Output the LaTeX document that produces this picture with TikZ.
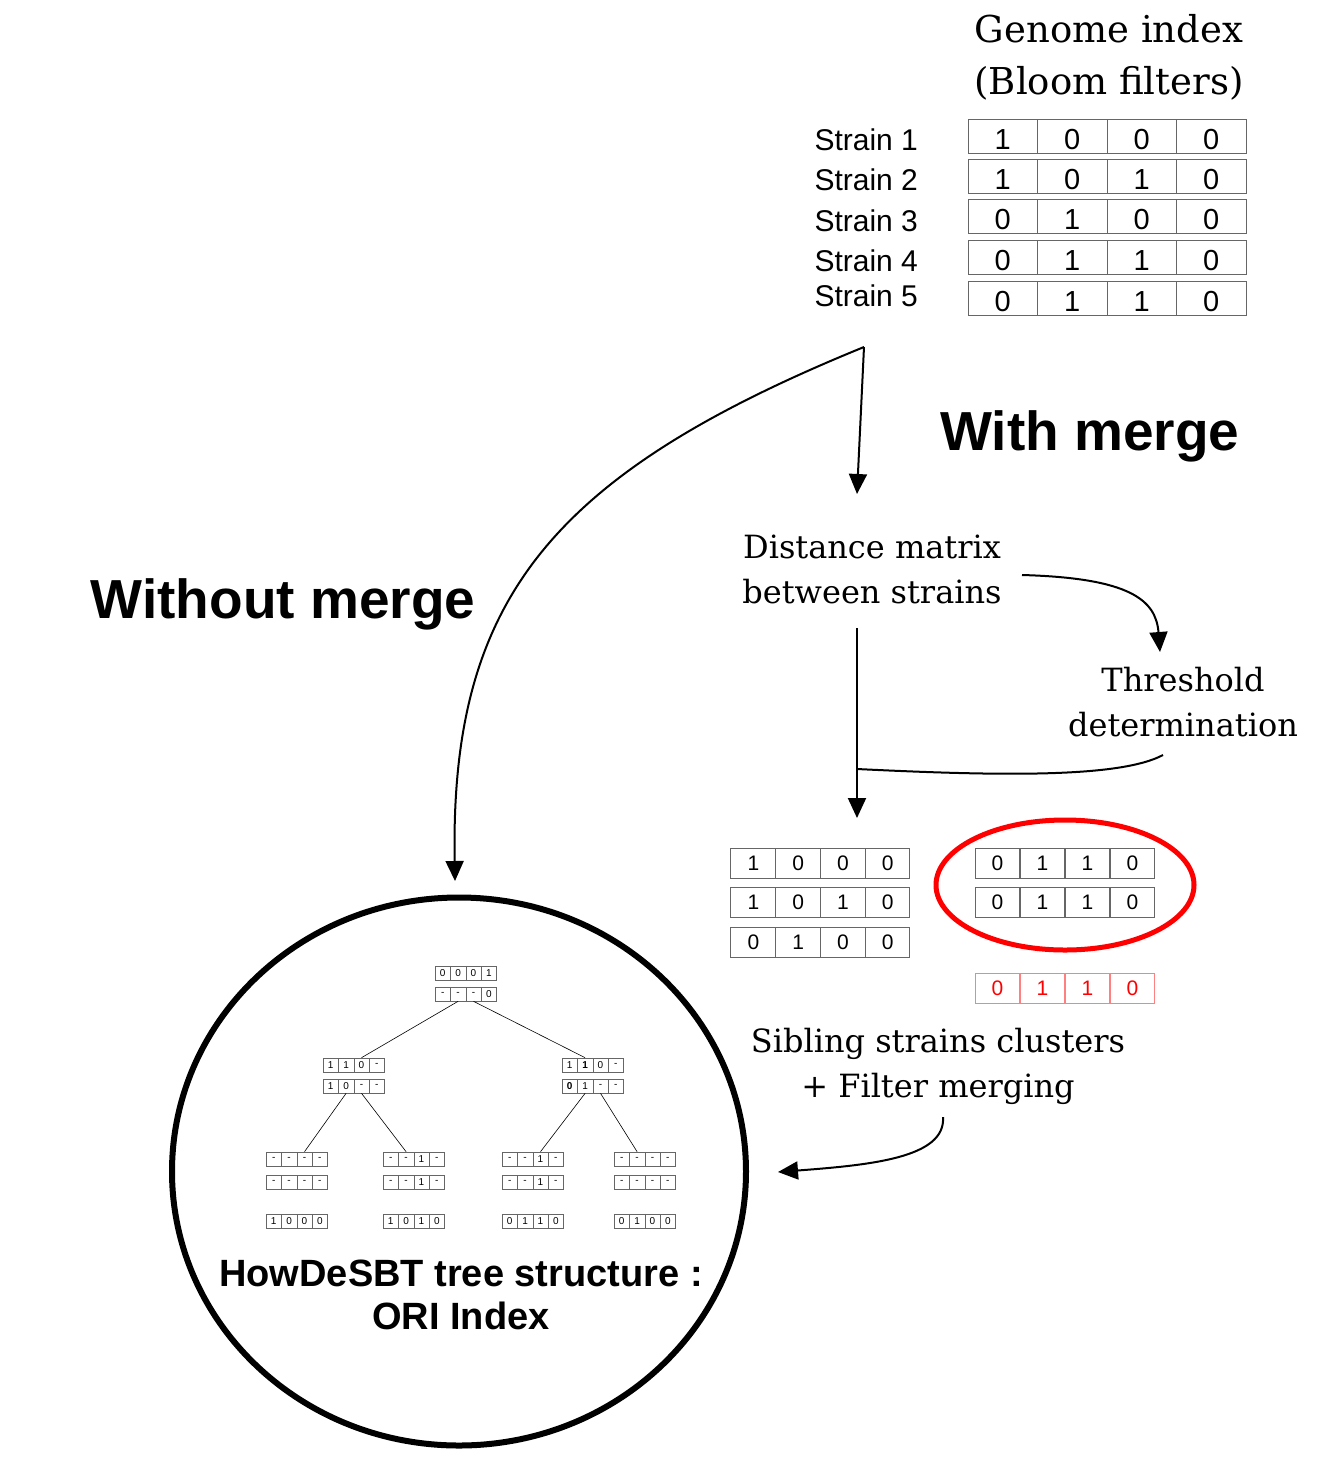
\documentclass[tikz,border=0pt]{standalone}
\usepackage{fontspec}
\setmainfont{DejaVu Serif}
\setsansfont{Liberation Sans}
\usetikzlibrary{arrows.meta,shapes.geometric}

\begin{document}
\begin{tikzpicture}
[x=1pt,y=-1pt]
\tikzset{cell/.style={draw=black!60,line width=1pt,minimum width=69.5pt,minimum height=34pt,inner sep=0pt,font=\sffamily\fontsize{29}{29}\selectfont}}
\tikzset{gcell/.style={cell,text height=26pt,text depth=0pt,xshift=2pt}}
\tikzset{mcell/.style={cell,minimum width=44.75pt,minimum height=30pt,font=\sffamily\fontsize{21}{21}\selectfont}}
\tikzset{tcell/.style={cell,line width=.6pt,minimum width=15.4pt,minimum height=14pt,font=\sffamily\fontsize{10}{10}\selectfont}}
\tikzset{lbl/.style={align=center,font=\fontsize{32}{45}\selectfont}}
\tikzset{big/.style={font=\sffamily\bfseries\fontsize{55}{60}\selectfont}}
\tikzset{arr/.style={line width=2pt,-{Triangle[length=20pt,width=18pt]}}}

\useasboundingbox (0,0) rectangle (1323,1484);

% genome index
\node [lbl,font=\fontsize{37}{52}\selectfont] (title) at (1109,57) {Genome index\\(Bloom filters)};
\foreach \row/\y/\ly/\vals in {1/136/140/{1,0,0,0},2/176.5/180/{1,0,1,0},3/216.5/221/{0,1,0,0},4/257/261/{0,1,1,0},5/298/296/{0,1,1,0}} {
  \node [anchor=west,font=\sffamily\fontsize{30}{30}\selectfont] (s\row) at (811,\ly) {Strain \row};
  \foreach \v [count=\c] in \vals
    \node [gcell] (g\row\c) at (931.25+\c*69.5,\y) {\v};
}

\node [big] (wm) at (1090,436) {With merge};
\node [big] (wom) at (283,604) {Without merge};

% with merge branch
\node [lbl] (dist) at (872,569) {Distance matrix\\between strains};
\node [lbl] (thr) at (1183,702) {Threshold\\determination};
\node [lbl] (sib) at (938,1066) {Sibling strains clusters\\+ Filter merging};

\foreach \row/\y/\vals in {1/863/{1,0,0,0},2/902.5/{1,0,1,0},3/942/{0,1,0,0}}
  \foreach \v [count=\c] in \vals
    \node [mcell] (m\row\c) at (708.6+\c*44.75,\y) {\v};
\foreach \row/\y/\vals in {1/863/{0,1,1,0},2/902.5/{0,1,1,0}}
  \foreach \v [count=\c] in \vals
    \node [mcell] (k\row\c) at (952.5+\c*45,\y) {\v};
\foreach \v [count=\c] in {0,1,1,0}
  \node [mcell,draw=red!50,text=red] (mg\c) at (952.5+\c*45,988.5) {\v};
\node [draw=red,line width=5pt,ellipse,minimum width=258pt,minimum height=130pt,inner sep=0pt] (clu) at (1065,885) {};

% ORI index
\node [draw,line width=6pt,ellipse,minimum width=574pt,minimum height=548pt,inner sep=0pt] (ori) at (459,1171.5) {};
\node [font=\sffamily\bfseries\fontsize{38}{43}\selectfont,align=center] (oritxt) at (461,1295) {HowDeSBT tree structure :\\ORI Index};

\foreach \n/\x/\y/\vals in {r1/435/966/{0,0,0,1},r2/435/987/{-,-,-,0},
  lc1/323/1058/{1,1,0,-},lc2/323/1079/{1,0,-,-},
  rc1/562/1058/{1,\textbf{1},0,-},rc2/562/1079/{\textbf{0},1,-,-},
  ga1/266/1152/{-,-,-,-},ga2/266/1175/{-,-,-,-},
  gb1/383/1152/{-,-,1,-},gb2/383/1175/{-,-,1,-},
  gc1/502/1152/{-,-,1,-},gc2/502/1175/{-,-,1,-},
  gd1/614/1152/{-,-,-,-},gd2/614/1175/{-,-,-,-},
  fa/266/1214/{1,0,0,0},fb/383/1214/{1,0,1,0},
  fc/502/1214/{0,1,1,0},fd/614/1214/{0,1,0,0}}
  \foreach \v [count=\c] in \vals
    \node [tcell] (\n-\c) at (\x+\c*15.4-7.7,\y+7) {\v};

\foreach \from/\to in {r2-2/lc1-3,r2-3/rc1-2,lc2-2/ga1-3,lc2-3/gb1-2,rc2-2/gc1-3,rc2-3/gd1-2}
  \draw [line width=.6pt] (\from.south) -- (\to.north);

% connectors
\coordinate (fork) at (864,347);
\coordinate (dmin) at (857,494);
\coordinate (orin) at (455,881);
\coordinate (dmout) at (1022,575);
\coordinate (thin) at (1160,652);
\coordinate (dmdown) at (857,628);
\coordinate (mrgin) at (857,818);
\coordinate (thout) at (1163,755);
\coordinate (join) at (857,769);
\coordinate (sbout) at (943,1117);
\coordinate (orie) at (778,1172);

\draw [arr] (fork) -- (dmin);
\draw [arr] (fork) .. controls (550,475) and (450,600) .. (orin);
\draw [arr] (dmout) .. controls (1130,578) and (1156,600) .. (thin);
\draw [arr] (dmdown) -- (mrgin);
\draw [line width=2pt] (thout) .. controls (1120,778) and (1000,776) .. (join);
\draw [arr] (sbout) .. controls (946,1158) and (870,1165) .. (orie);
\end{tikzpicture}
\end{document}
